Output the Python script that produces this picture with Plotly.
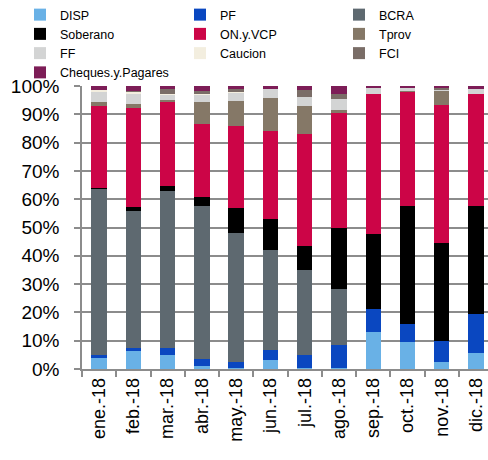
import plotly.graph_objects as go

months = ["ene.-18", "feb.-18", "mar.-18", "abr.-18", "may.-18", "jun.-18",
          "jul.-18", "ago.-18", "sep.-18", "oct.-18", "nov.-18", "dic.-18"]

DISP = [4.0, 6.5, 5.1, 1.1, 0.5, 3.3, 0.3, 0.3, 13.1, 9.4, 2.4, 5.5]
PF = [0.8, 0.9, 2.4, 2.5, 2.0, 3.4, 4.5, 8.1, 8.1, 6.5, 7.4, 13.9]
BCRA = [58.9, 48.4, 55.5, 54.2, 45.5, 35.3, 30.1, 19.8, 0.0, 0.0, 0.0, 0.0]
Soberano = [0.3, 1.2, 1.7, 3.2, 8.8, 10.9, 8.5, 21.5, 26.6, 41.7, 34.8, 38.3]
ON_y_VCP = [29.0, 35.0, 29.4, 25.7, 29.1, 31.3, 39.4, 40.9, 49.5, 40.4, 48.7, 39.6]
Tprov = [1.5, 1.5, 0.8, 7.6, 8.6, 11.7, 10.0, 0.8, 0.0, 0.2, 5.2, 0.0]
FF = [3.5, 3.5, 2.0, 2.8, 3.2, 2.9, 3.2, 4.1, 1.9, 1.2, 0.4, 1.5]
Caucion = [0.6, 0.9, 0.3, 0.2, 0.1, 0.0, 0.0, 0.0, 0.0, 0.0, 0.0, 0.0]
FCI = [0.0, 0.3, 1.5, 1.0, 0.9, 0.0, 2.5, 1.8, 0.0, 0.0, 0.3, 0.0]
Cheques = [1.4, 1.6, 1.2, 1.8, 1.2, 1.2, 1.4, 2.7, 0.8, 0.6, 0.8, 1.2]

# (name, values, colour, legend column)
series = [
    ("DISP", DISP, "#69B1E6", "legend"),
    ("PF", PF, "#0A47C0", "legend2"),
    ("BCRA", BCRA, "#5E6970", "legend3"),
    ("Soberano", Soberano, "#000000", "legend"),
    ("ON.y.VCP", ON_y_VCP, "#CC0547", "legend2"),
    ("Tprov", Tprov, "#857867", "legend3"),
    ("FF", FF, "#D3D4D4", "legend"),
    ("Caucion", Caucion, "#F3EEDF", "legend2"),
    ("FCI", FCI, "#7A6D67", "legend3"),
    ("Cheques.y.Pagares", Cheques, "#7D1D57", "legend"),
]

fig = go.Figure()
for name, vals, col, leg in series:
    fig.add_trace(go.Bar(x=months, y=vals, name=name, legend=leg,
                         marker=dict(color=col, line=dict(width=0))))

font_family = "Liberation Sans, Arial, sans-serif"


def legend_at(px):
    return dict(orientation="v", xref="container", x=px / 488, xanchor="left",
                yref="container", y=1.0, yanchor="top", itemwidth=30,
                font=dict(size=12.5, family=font_family), traceorder="normal",
                bgcolor="rgba(0,0,0,0)", tracegroupgap=0)


fig.update_layout(
    width=488, height=460,
    margin=dict(l=82, r=0, t=86, b=91, autoexpand=False),
    barmode="stack", barnorm="percent", bargap=0.55,
    plot_bgcolor="white", paper_bgcolor="white",
    font=dict(family=font_family, color="#000000"),
    legend=legend_at(20), legend2=legend_at(180), legend3=legend_at(339),
    xaxis=dict(type="category", range=[-0.5, 11.35], tickangle=-90,
               tickfont=dict(size=18), ticks="outside", tickson="boundaries",
               ticklen=6, tickcolor="#8c8c8c", tickwidth=1.5,
               showline=True, linecolor="#8c8c8c", linewidth=1.5,
               showgrid=False, automargin=False),
    yaxis=dict(range=[0, 100], dtick=10, ticksuffix="%", tickfont=dict(size=19),
               ticks="outside", ticklen=6, tickcolor="#8c8c8c", tickwidth=1.5,
               ticklabelstandoff=11,
               showgrid=True, gridcolor="#8c8c8c", gridwidth=1.5,
               showline=True, linecolor="#8c8c8c", linewidth=1.5,
               zeroline=False, automargin=False),
)
fig.write_html("out.html", config={"displayModeBar": False},
               post_script="document.body.style.margin='0px';")
